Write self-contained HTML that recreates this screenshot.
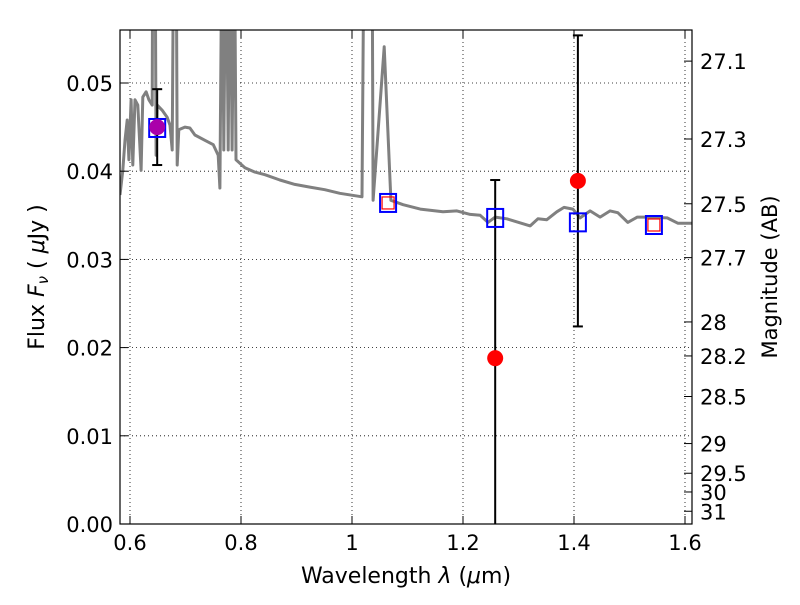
<!DOCTYPE html>
<html><head><meta charset="utf-8"><style>
body{margin:0;background:#fff}
svg{font-family:"DejaVu Sans","Liberation Sans",sans-serif}
</style></head><body>
<svg id="chart" width="800" height="600" xmlns="http://www.w3.org/2000/svg">
<defs><clipPath id="clip"><rect x="120" y="30" width="572" height="494"/></clipPath></defs>
<rect width="800" height="600" fill="#fff"/>
<g id="grid"></g>
<g id="spec" clip-path="url(#clip)"></g>
<g id="marks" clip-path="url(#clip)"></g>
<rect x="120" y="30" width="572" height="494" fill="none" stroke="#000" stroke-width="1.2"/>
<g id="axes"></g>
<text x="406" y="583" font-size="22" text-anchor="middle">Wavelength  <tspan font-style="italic">λ</tspan> (<tspan font-style="italic">μ</tspan>m)</text>
<text transform="translate(44,277) rotate(-90)" font-size="22" text-anchor="middle">Flux  <tspan font-style="italic">F<tspan font-size="15" dy="4">ν</tspan></tspan><tspan dy="-4">  (  </tspan><tspan font-style="italic">μ</tspan>Jy )</text>
<text transform="translate(777,277) rotate(-90)" font-size="21" text-anchor="middle">Magnitude (AB)</text>
</svg>
<script>
const specLam=[0.582,0.587,0.591,0.595,0.598,0.602,0.605,0.609,0.614,0.620,0.623,0.629,0.634,0.640,0.641,0.645,0.647,0.649,0.658,0.667,0.672,0.676,0.679,0.683,0.685,0.688,0.699,0.708,0.717,0.735,0.750,0.759,0.762,0.766,0.769,0.773,0.777,0.780,0.784,0.788,0.791,0.807,0.825,0.843,0.870,0.897,0.924,0.951,0.978,1.018,1.022,1.036,1.038,1.058,1.070,1.092,1.123,1.164,1.189,1.213,1.231,1.245,1.258,1.279,1.321,1.335,1.351,1.369,1.382,1.398,1.411,1.429,1.447,1.465,1.479,1.497,1.514,1.537,1.568,1.587,1.614];
const specFlux=[0.0373,0.0401,0.0435,0.0458,0.0413,0.0481,0.0407,0.0481,0.0475,0.0401,0.0484,0.0490,0.0481,0.0475,0.07,0.07,0.0418,0.0475,0.0469,0.0461,0.0452,0.0424,0.07,0.07,0.0407,0.0447,0.0450,0.0449,0.0441,0.0435,0.0430,0.0418,0.0381,0.07,0.0424,0.07,0.0424,0.07,0.0424,0.07,0.0413,0.0404,0.0399,0.0396,0.0390,0.0385,0.0382,0.0379,0.0375,0.0371,0.07,0.07,0.0367,0.0541,0.0367,0.0362,0.0357,0.0354,0.0355,0.0351,0.0350,0.0342,0.0348,0.0346,0.0338,0.0346,0.0345,0.0354,0.0359,0.0357,0.0347,0.0355,0.0348,0.0355,0.0353,0.0342,0.0348,0.0348,0.0347,0.0341,0.0341];
const modelLam=[0.649,1.065,1.258,1.407,1.544];
const modelFlux=[0.0449,0.0364,0.0347,0.0342,0.0339];
const redSqLam=[1.065,1.544];
const redSqFlux=[0.0364,0.0339];
const obsLam=[1.258,1.407];
const obsFlux=[0.0188,0.0389];
const obsErr=[0.0202,0.0165];
const hstLam=[0.649];
const hstFlux=[0.0450];
const hstErr=[0.0043];
const xTicks=[0.6,0.8,1.0,1.2,1.4,1.6];
const xTickLabels=["0.6","0.8","1","1.2","1.4","1.6"];
const yTicks=[0,0.01,0.02,0.03,0.04,0.05];
const yTickLabels=["0.00","0.01","0.02","0.03","0.04","0.05"];
const magTicks=[27.1,27.3,27.5,27.7,28,28.2,28.5,29,29.5,30,31];
const magTickLabels=["27.1","27.3","27.5","27.7","28","28.2","28.5","29","29.5","30","31"];

const NS="http://www.w3.org/2000/svg";
const X=l=>130+(l-0.6)*555;
const Y=f=>524-f*8820;
function mk(tag,parent,attrs){const e=document.createElementNS(NS,tag);for(const k in attrs)e.setAttribute(k,attrs[k]);document.getElementById(parent).appendChild(e);return e;}
xTicks.forEach((t,i)=>{
 let g=mk('line','grid',{x1:X(t),x2:X(t),y1:30,y2:524,stroke:'#000','stroke-width':0.8,'stroke-dasharray':'1,3'});
 
 
 mk('line','axes',{x1:X(t),x2:X(t),y1:524,y2:516,stroke:'#000'});
 mk('line','axes',{x1:X(t),x2:X(t),y1:30,y2:38,stroke:'#000'});
 let tx=mk('text','axes',{x:X(t),y:550,'font-size':21,'text-anchor':'middle'});
 tx.textContent=xTickLabels[i];
 
 
});
yTicks.forEach((t,i)=>{
 let g=mk('line','grid',{x1:120,x2:692,y1:Y(t),y2:Y(t),stroke:'#000','stroke-width':0.8,'stroke-dasharray':'1,3'});
 
 
 mk('line','axes',{x1:120,x2:128,y1:Y(t),y2:Y(t),stroke:'#000'});
 let tx=mk('text','axes',{x:113,y:Y(t)+8,'font-size':21,'text-anchor':'end'});
 tx.textContent=yTickLabels[i];
 
 
});
magTicks.forEach((m,i)=>{
 const f=Math.pow(10,(23.9-m)/2.5);
 mk('line','axes',{x1:684,x2:692,y1:Y(f),y2:Y(f),stroke:'#000'});
 let tx=mk('text','axes',{x:700,y:Y(f)+8,'font-size':21});
 tx.textContent=magTickLabels[i];
 
 
});
let d=specLam.map((l,i)=>(i?'L':'M')+X(l).toFixed(1)+','+Y(specFlux[i]).toFixed(1)).join('');
let sp=mk('path','spec',{d:d,fill:'none',stroke:'#808080','stroke-width':3,'stroke-linejoin':'round'});


function ebar(l,f,e){
 const x=X(l),y1=Y(f+e),y2=Y(f-e);
 mk('line','marks',{x1:x,x2:x,y1:y1,y2:y2,stroke:'#000','stroke-width':2});
 mk('line','marks',{x1:x-5,x2:x+5,y1:y1,y2:y1,stroke:'#000','stroke-width':2});
 mk('line','marks',{x1:x-5,x2:x+5,y1:y2,y2:y2,stroke:'#000','stroke-width':2});
}
hstLam.forEach((l,i)=>ebar(l,hstFlux[i],hstErr[i]));
obsLam.forEach((l,i)=>ebar(l,obsFlux[i],obsErr[i]));
modelLam.forEach((l,i)=>{
 let r=mk('rect','marks',{x:X(l)-8,y:Y(modelFlux[i])-9,width:16,height:18,fill:'none',stroke:'#0000ff','stroke-width':2});
 
 
});
redSqLam.forEach((l,i)=>{
 let r=mk('rect','marks',{x:X(l)-6,y:Y(redSqFlux[i])-6,width:12,height:12,fill:'none',stroke:'#ff0000','stroke-width':1.2});
 
 
});
hstLam.forEach((l,i)=>{
 let c=mk('circle','marks',{cx:X(l),cy:Y(hstFlux[i]),r:8,fill:'#aa00aa'});
 
 
});
obsLam.forEach((l,i)=>{
 let c=mk('circle','marks',{cx:X(l),cy:Y(obsFlux[i]),r:8,fill:'#ff0000'});
 
 
});
</script>
</body></html>
